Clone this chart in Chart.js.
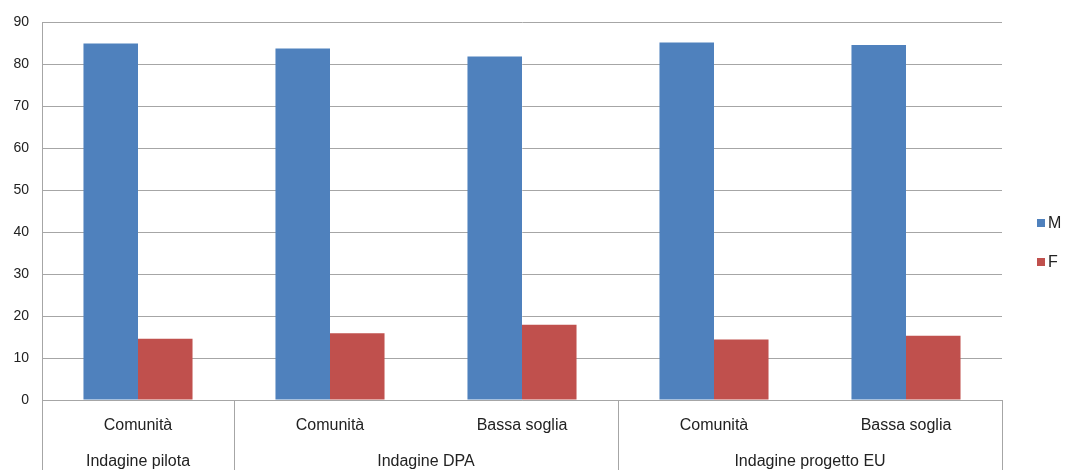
<!DOCTYPE html>
<html>
<head>
<meta charset="utf-8">
<script src="https://cdn.jsdelivr.net/npm/chart.js@4/dist/chart.umd.min.js"></script>
<style>
  html, body { margin: 0; padding: 0; background: #fff; }
  #wrap { position: relative; width: 1066px; height: 470px; }
</style>
</head>
<body>
<div id="wrap"><canvas id="c" width="1066" height="470"></canvas></div>
<script>
// Sub-categories (inner axis row) and survey groups (outer axis row)
const categories = ['Comunità', 'Comunità', 'Bassa soglia', 'Comunità', 'Bassa soglia'];
const groupLabels = ['Indagine pilota', 'Indagine DPA', 'Indagine progetto EU'];
const groupSizes = [1, 2, 2];

// Share (%) by sex
const maleValues = [84.9, 83.7, 81.8, 85.1, 84.5];
const femaleValues = [14.6, 15.9, 17.9, 14.4, 15.3];

const yTicks = [0, 10, 20, 30, 40, 50, 60, 70, 80, 90];

const FONT = '"Liberation Sans", Arial, sans-serif';
const TEXT = '#222222';
const LINE = '#a6a6a6';

// Outer axis row: group separators and group names, plus the legend on the right
const groupAxisPlugin = {
  id: 'groupAxis',
  afterDraw(chart) {
    const ctx = chart.ctx;
    const xs = chart.scales.x;
    const area = chart.chartArea;
    const bottom = chart.height;
    const half = (xs.getPixelForValue(1) - xs.getPixelForValue(0)) / 2;

    ctx.save();
    ctx.strokeStyle = LINE;
    ctx.lineWidth = 1;
    let start = 0;
    const bounds = [xs.getPixelForValue(0) - half];
    groupSizes.forEach(n => {
      start += n;
      bounds.push(xs.getPixelForValue(start - 1) + half);
    });
    bounds.forEach(px => {
      const x = Math.round(px) + 0.5;
      ctx.beginPath();
      ctx.moveTo(x, area.bottom);
      ctx.lineTo(x, bottom);
      ctx.stroke();
    });

    ctx.fillStyle = TEXT;
    ctx.font = '16px ' + FONT;
    ctx.textAlign = 'center';
    ctx.textBaseline = 'middle';
    groupLabels.forEach((lbl, i) => {
      ctx.fillText(lbl, (bounds[i] + bounds[i + 1]) / 2, 462);
    });

    // legend
    const items = chart.data.datasets;
    const legendX = 1037;
    const legendY = [223, 262];
    ctx.textAlign = 'left';
    items.forEach((ds, i) => {
      ctx.fillStyle = ds.backgroundColor;
      ctx.fillRect(legendX, legendY[i] - 4, 8, 8);
      ctx.fillStyle = TEXT;
      ctx.fillText(ds.label, legendX + 11, legendY[i] + 1);
    });
    ctx.restore();
  }
};

new Chart(document.getElementById('c'), {
  type: 'bar',
  data: {
    labels: categories,
    datasets: [
      { label: 'M', data: maleValues, backgroundColor: '#4f81bd' },
      { label: 'F', data: femaleValues, backgroundColor: '#c0504d' }
    ]
  },
  options: {
    responsive: false,
    animation: false,
    devicePixelRatio: 1,
    layout: { padding: { top: 22, right: 64, left: 0, bottom: 0 } },
    datasets: {
      bar: { categoryPercentage: 0.568, barPercentage: 1.0, borderWidth: 0 }
    },
    plugins: {
      legend: { display: false },
      tooltip: { enabled: false }
    },
    scales: {
      x: {
        grid: { display: false, drawTicks: false },
        border: { display: true, color: LINE, width: 1 },
        ticks: {
          color: TEXT,
          font: { family: FONT, size: 16 },
          padding: 16,
          maxRotation: 0,
          autoSkip: false
        },
        afterFit(scale) { scale.height = 70; }
      },
      y: {
        min: 0,
        max: 90,
        afterBuildTicks(scale) { scale.ticks = yTicks.map(v => ({ value: v })); },
        grid: { color: LINE, drawTicks: false, lineWidth: 1 },
        border: { display: true, color: LINE, width: 1 },
        ticks: {
          color: TEXT,
          font: { family: FONT, size: 14 },
          padding: 13
        },
        afterFit(scale) { scale.width = 42; }
      }
    }
  },
  plugins: [groupAxisPlugin]
});
</script>
</body>
</html>
